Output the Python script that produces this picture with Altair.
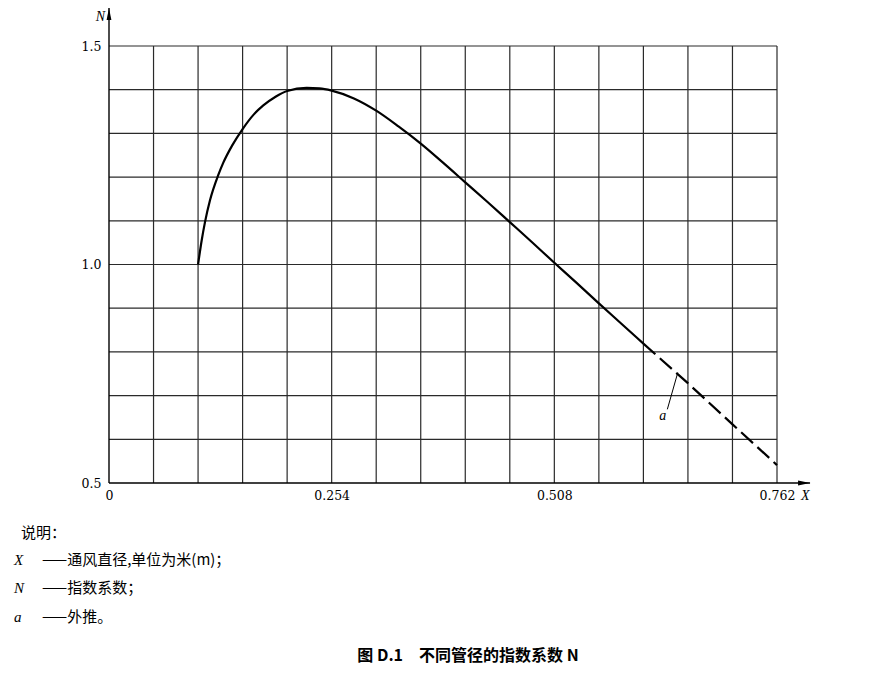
import altair as alt
import pandas as pd

# ---- data ----
solid_x = [0.1016, 0.1057, 0.1095, 0.1152, 0.1247, 0.1304, 0.1404, 0.1524, 0.165,
           0.176, 0.19, 0.2032, 0.2255, 0.24, 0.254, 0.2794, 0.3048, 0.3302,
           0.356, 0.381, 0.4064, 0.4318, 0.4572, 0.4826, 0.508, 0.5334, 0.5588,
           0.5842, 0.6096]
solid_n = [1.0, 1.055, 1.097, 1.147, 1.205, 1.233, 1.272, 1.310, 1.343,
           1.364, 1.384, 1.397, 1.404, 1.403, 1.398, 1.380, 1.352, 1.316,
           1.276, 1.233, 1.188, 1.143, 1.097, 1.051, 1.004, 0.958, 0.911,
           0.865, 0.819]
dash_x = [0.6096, 0.66, 0.7103, 0.762]
dash_n = [0.819, 0.729, 0.636, 0.541]

x_grid = [0.0508, 0.1016, 0.1524, 0.2032, 0.254, 0.3048, 0.3556, 0.4064,
          0.4572, 0.508, 0.5588, 0.6096, 0.6604, 0.7112, 0.762]
y_grid = [0.6, 0.7, 0.8, 0.9, 1.0, 1.1, 1.2, 1.3, 1.4, 1.5]
x_ticks = [0, 0.254, 0.508, 0.762]
y_ticks = [0.5, 1.0, 1.5]

legend_head = "说明："
legend_sym = ["X", "N", "a"]
legend_txt = ["——通风直径,单位为米(m)；", "——指数系数；", "——外推。"]
title_txt = "图 D.1\u3000不同管径的指数系数 N"
x_name = "X"
y_name = "N"
anno_txt = "a"

# ---- chart ----
W, H = 668, 437
xs = alt.Scale(domain=[0, 0.762], nice=False, zero=False)
ys = alt.Scale(domain=[0.5, 1.5], nice=False, zero=False)
serif = "Liberation Serif"
digits = "DejaVu Serif"
cjk = "Noto Sans CJK SC"
gridc = "#2a2a2a"

xaxis = alt.Axis(values=x_ticks, grid=False, ticks=False, domain=False, title=None,
                 labelExpr="datum.value == 0 ? '0' : format(datum.value, '.3f')",
                 labelFont=digits, labelFontSize=12.5, labelColor="black",
                 labelPadding=6, labelFlush=False)
yaxis = alt.Axis(values=y_ticks, grid=False, ticks=False, domain=False, title=None,
                 format=".1f", labelFont=digits, labelFontSize=12.5, labelColor="black",
                 labelPadding=8)

one = alt.Data(values=[{}])

vgrid = alt.Chart(pd.DataFrame({"x": x_grid})).mark_rule(color=gridc, strokeWidth=1.2).encode(
    x=alt.X("x:Q", scale=xs, axis=xaxis))
hgrid = alt.Chart(pd.DataFrame({"y": y_grid})).mark_rule(color=gridc, strokeWidth=1.2).encode(
    y=alt.Y("y:Q", scale=ys, axis=yaxis))

y_tip = 1.587
x_tip = 0.7997
yline = alt.Chart(one).mark_rule(color="black", strokeWidth=1.4).encode(
    x=alt.datum(0, scale=xs), y=alt.datum(0.5, scale=ys), y2=alt.datum(y_tip))
xline = alt.Chart(one).mark_rule(color="black", strokeWidth=1.4).encode(
    y=alt.datum(0.5, scale=ys), x=alt.datum(0, scale=xs), x2=alt.datum(x_tip))
yarrow = alt.Chart(one).mark_point(shape="M0,0L0.4,2L-0.4,2Z", filled=True, size=144,
                                   color="black", opacity=1).encode(
    x=alt.datum(0, scale=xs), y=alt.datum(y_tip, scale=ys))
xarrow = alt.Chart(one).mark_point(shape="M0,0L-2,-0.4L-2,0.4Z", filled=True, size=144,
                                   color="black", opacity=1).encode(
    x=alt.datum(x_tip, scale=xs), y=alt.datum(0.5, scale=ys))

solid = alt.Chart(pd.DataFrame({"x": solid_x, "n": solid_n})).mark_line(
    color="black", strokeWidth=2.2, interpolate="monotone").encode(
    x=alt.X("x:Q", scale=xs), y=alt.Y("n:Q", scale=ys))
dashed = alt.Chart(pd.DataFrame({"x": dash_x, "n": dash_n})).mark_line(
    color="black", strokeWidth=2.2, strokeDash=[16, 6]).encode(
    x=alt.X("x:Q", scale=xs), y=alt.Y("n:Q", scale=ys))

leader = alt.Chart(one).mark_rule(color="black", strokeWidth=1).encode(
    x=alt.datum(0.6488, scale=xs), y=alt.datum(0.7524, scale=ys),
    x2=alt.datum(0.6369), y2=alt.datum(0.6686))
anno = alt.Chart(pd.DataFrame({"t": [anno_txt]})).mark_text(
    font=serif, fontStyle="italic", fontSize=14, color="black").encode(
    x=alt.datum(0.6316, scale=xs), y=alt.datum(0.654, scale=ys), text="t:N")


def txt(s, x, y, font, size, align="left", italic=False, bold=False):
    kw = dict(font=font, fontSize=size, color="black", align=align, baseline="middle")
    if italic:
        kw["fontStyle"] = "italic"
    if bold:
        kw["fontWeight"] = "bold"
    return alt.Chart(pd.DataFrame({"t": [s]})).mark_text(**kw).encode(
        x=alt.value(x), y=alt.value(y), text="t:N")


texts = [
    txt(y_name, -4, -29, serif, 14, align="right", italic=True),
    txt(x_name, 692, 450, serif, 14, italic=True),
    txt(legend_head, -88, 487, cjk, 15),
]
rows_y = [514, 542, 571]
for sym, t, yy in zip(legend_sym, legend_txt, rows_y):
    texts.append(txt(sym, -95, yy, serif, 15, italic=True))
    texts.append(txt(t, -67, yy, cjk, 15))
texts.append(txt(title_txt, 359, 610, cjk, 16, align="center", bold=True))

chart = alt.layer(vgrid, hgrid, solid, dashed, yline, xline, yarrow, xarrow,
                  leader, anno, *texts).properties(
    width=W, height=H, autosize=alt.AutoSizeParams(type="none"),
    padding={"left": 101, "top": 38, "right": 92, "bottom": 182},
    background="white",
).configure_view(stroke=None)

chart.save("out.html", embed_options={"renderer": "svg", "actions": False})
